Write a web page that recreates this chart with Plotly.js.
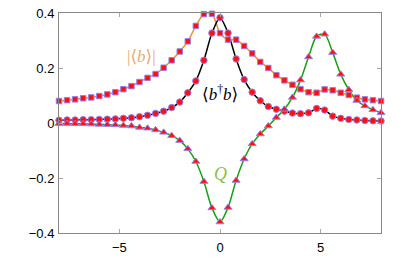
<!DOCTYPE html>
<html>
<head>
<meta charset="utf-8">
<script src="https://cdn.plot.ly/plotly-3.0.1.min.js"></script>
<style>html,body{margin:0;padding:0;background:#fff;}#chart{width:415px;height:258px;}</style>
</head>
<body>
<div id="chart"></div>
<script>
var xs = [-8,-7.6,-7.2,-6.8,-6.4,-6,-5.6,-5.2,-4.8,-4.4,-4,-3.6,-3.2,-2.8,-2.4,-2,-1.6,-1.2,-0.8,-0.4,0,0.4,0.8,1.2,1.6,2,2.4,2.8,3.2,3.6,4,4.4,4.8,5.2,5.6,6,6.4,6.8,7.2,7.6,8];
var absB = [0.080,0.083,0.086,0.090,0.093,0.098,0.104,0.112,0.123,0.134,0.149,0.164,0.178,0.201,0.228,0.260,0.297,0.353,0.396,0.397,0.327,0.303,0.303,0.280,0.253,0.222,0.200,0.174,0.155,0.139,0.123,0.112,0.110,0.122,0.119,0.110,0.102,0.092,0.086,0.083,0.080];
var nB = [0.010,0.011,0.011,0.012,0.012,0.013,0.014,0.015,0.017,0.019,0.023,0.028,0.035,0.043,0.056,0.076,0.110,0.153,0.228,0.327,0.383,0.327,0.233,0.158,0.112,0.081,0.060,0.050,0.043,0.036,0.034,0.037,0.053,0.047,0.025,0.017,0.013,0.011,0.009,0.008,0.007];
var Q = [-0.002,-0.002,-0.003,-0.003,-0.004,-0.005,-0.006,-0.007,-0.009,-0.011,-0.016,-0.019,-0.025,-0.034,-0.046,-0.064,-0.094,-0.140,-0.213,-0.309,-0.360,-0.307,-0.209,-0.131,-0.076,-0.040,-0.011,0.020,0.050,0.093,0.156,0.240,0.315,0.323,0.256,0.177,0.121,0.082,0.062,0.048,0.037];
var xTicks = [-5, 0, 5];
var xTickText = ['\u22125', '0', '5'];
var yTicks = [-0.4, -0.2, 0, 0.2, 0.4];
var yTickText = ['\u22120.4', '\u22120.2', '0', '0.2', '0.4'];

var mk = function(sym, size){ return {symbol: sym, size: size, color: '#ff1010', line: {color: 'rgb(150,130,240)', width: 1}}; };
var traces = [
  {x: xs, y: absB, mode: 'lines', line: {color: 'rgb(240,145,30)', width: 1.5, shape: 'spline', smoothing: 0.8}, cliponaxis: false},
  {x: xs, y: nB, mode: 'lines', line: {color: '#000', width: 1.5, shape: 'spline', smoothing: 0.8}, cliponaxis: false},
  {x: xs, y: Q, mode: 'lines', line: {color: 'rgb(20,160,20)', width: 1.5, shape: 'spline', smoothing: 0.8}, cliponaxis: false},
  {x: xs, y: absB, mode: 'markers', marker: mk('square', 5.5), cliponaxis: false},
  {x: xs, y: nB, mode: 'markers', marker: mk('circle', 6.5), cliponaxis: false},
  {x: xs, y: Q, mode: 'markers', marker: mk('triangle-up', 7), cliponaxis: false}
];
var axisBase = {showgrid: false, zeroline: false, showline: true, linecolor: '#888', linewidth: 1, mirror: 'ticks',
  ticks: 'inside', ticklen: 4, tickcolor: '#aaa', tickfont: {family: 'Liberation Sans, Arial, sans-serif', size: 13, color: '#000'}};
var serif = 'Liberation Serif, DejaVu Serif, serif';
var layout = {
  width: 415, height: 258,
  margin: {l: 59, r: 34, t: 13, b: 25},
  showlegend: false,
  paper_bgcolor: '#fff', plot_bgcolor: '#fff',
  xaxis: Object.assign({}, axisBase, {range: [-8, 8], tickvals: xTicks, ticktext: xTickText, ticklabelstandoff: 2}),
  yaxis: Object.assign({}, axisBase, {range: [-0.4, 0.4], tickvals: yTicks, ticktext: yTickText, ticklabelstandoff: 1}),
  annotations: [
    {xref: 'paper', yref: 'paper', x: (141-59)/322, y: (233-57)/220, xanchor: 'center', yanchor: 'middle',
     text: '|\u27E8<i>b</i>\u27E9|', showarrow: false,
     font: {family: serif, size: 17, color: '#e8a878'}},
    {xref: 'paper', yref: 'paper', x: (220-59)/322, y: (233-93)/220, xanchor: 'center', yanchor: 'middle',
     text: '\u27E8<i>b</i><sup>\u2020</sup><i>b</i>\u27E9', showarrow: false,
     font: {family: serif, size: 17, color: '#000'}},
    {xref: 'paper', yref: 'paper', x: (220-59)/322, y: (233-174)/220, xanchor: 'center', yanchor: 'middle',
     text: '<i>Q</i>', showarrow: false,
     font: {family: serif, size: 18, color: '#8cc040'}}
  ]
};
Plotly.newPlot('chart', traces, layout, {displayModeBar: false, staticPlot: true});
</script>
</body>
</html>
